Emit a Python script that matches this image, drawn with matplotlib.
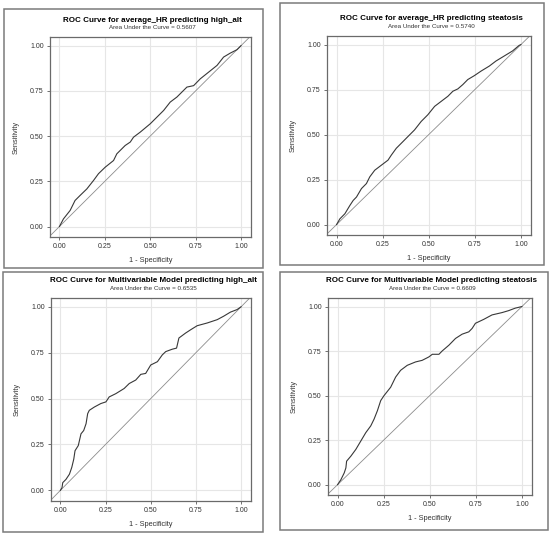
import matplotlib
matplotlib.use('Agg')
import matplotlib.pyplot as plt
from matplotlib.patches import Rectangle

plt.rcParams['font.family'] = ['Liberation Sans', 'DejaVu Sans']

W, H = 550, 538

# (1 - specificity, sensitivity)
hr_alt_x = [0, 0.022, 0.059, 0.086, 0.114, 0.151, 0.188, 0.215, 0.252, 0.298, 0.316, 0.362,
            0.390, 0.408, 0.445, 0.5, 0.537, 0.574, 0.610, 0.647, 0.702, 0.739, 0.776, 0.822,
            0.868, 0.904, 0.941, 0.978, 1]
hr_alt_y = [0, 0.042, 0.089, 0.144, 0.172, 0.208, 0.255, 0.292, 0.328, 0.365, 0.402, 0.448,
            0.467, 0.494, 0.522, 0.568, 0.605, 0.642, 0.688, 0.716, 0.771, 0.779, 0.817, 0.854,
            0.891, 0.937, 0.959, 0.978, 1]

hr_ste_x = [0, 0.018, 0.045, 0.072, 0.090, 0.108, 0.135, 0.162, 0.180, 0.207, 0.243, 0.279,
            0.297, 0.324, 0.360, 0.387, 0.423, 0.459, 0.495, 0.532, 0.568, 0.604, 0.631, 0.658,
            0.685, 0.712, 0.748, 0.784, 0.829, 0.865, 0.910, 0.955, 0.991, 1]
hr_ste_y = [0, 0.032, 0.060, 0.106, 0.134, 0.153, 0.200, 0.228, 0.265, 0.302, 0.330, 0.358,
            0.386, 0.424, 0.461, 0.489, 0.526, 0.573, 0.610, 0.657, 0.685, 0.713, 0.741, 0.754,
            0.778, 0.806, 0.828, 0.853, 0.881, 0.909, 0.937, 0.965, 0.996, 1]

mv_alt_x = [0, 0.009, 0.013, 0.031, 0.050, 0.063, 0.074, 0.081, 0.099, 0.114, 0.129, 0.142,
            0.151, 0.160, 0.188, 0.224, 0.252, 0.270, 0.307, 0.353, 0.381, 0.417, 0.445, 0.472,
            0.5, 0.537, 0.564, 0.583, 0.619, 0.643, 0.656, 0.693, 0.721, 0.757, 0.813, 0.868,
            0.904, 0.941, 0.978, 1]
mv_alt_y = [0, 0.015, 0.042, 0.060, 0.088, 0.125, 0.170, 0.216, 0.244, 0.308, 0.326, 0.363,
            0.418, 0.436, 0.454, 0.473, 0.482, 0.509, 0.527, 0.555, 0.582, 0.601, 0.632, 0.637,
            0.683, 0.701, 0.738, 0.756, 0.769, 0.775, 0.830, 0.857, 0.875, 0.897, 0.912, 0.930,
            0.949, 0.971, 0.985, 1]

mv_ste_x = [0, 0.018, 0.036, 0.045, 0.049, 0.072, 0.099, 0.126, 0.153, 0.180, 0.198, 0.216,
            0.234, 0.252, 0.288, 0.315, 0.342, 0.378, 0.423, 0.459, 0.495, 0.514, 0.550, 0.568,
            0.604, 0.640, 0.676, 0.712, 0.730, 0.748, 0.793, 0.838, 0.892, 0.928, 0.964, 1]
mv_ste_y = [0, 0.028, 0.066, 0.094, 0.132, 0.160, 0.198, 0.245, 0.292, 0.330, 0.368, 0.415,
            0.472, 0.500, 0.547, 0.604, 0.642, 0.670, 0.689, 0.698, 0.717, 0.732, 0.732, 0.751,
            0.783, 0.821, 0.845, 0.858, 0.877, 0.906, 0.928, 0.953, 0.966, 0.977, 0.991, 1]

titles = ['ROC Curve for average_HR predicting high_alt',
          'ROC Curve for average_HR predicting steatosis',
          'ROC Curve for Multivariable Model predicting high_alt',
          'ROC Curve for Multivariable Model predicting steatosis']
aucs = ['0.5607', '0.5740', '0.6535', '0.6609']
ticks = [0, 0.25, 0.5, 0.75, 1.0]
tick_labels = ['0.00', '0.25', '0.50', '0.75', '1.00']

curves = [(hr_alt_x, hr_alt_y), (hr_ste_x, hr_ste_y), (mv_alt_x, mv_alt_y), (mv_ste_x, mv_ste_y)]

# pixel boxes: panel border (l, t, r, b) and axes (l, t, r, b)
panel_boxes = [(4, 9, 263, 268), (280, 3, 544, 265), (3, 272, 263, 532), (280, 272, 548, 530)]
axes_boxes = [(50, 37, 251, 237), (327, 36, 531, 235), (51, 298, 251, 501), (328, 298, 532, 495)]

fig = plt.figure(figsize=(W / 100, H / 100), dpi=100)
fig.patch.set_facecolor('white')

for i in range(4):
    l, t, r, b = panel_boxes[i]
    fig.patches.append(Rectangle((l / W, 1 - b / H), (r - l) / W, (b - t) / H,
                                 transform=fig.transFigure, fill=False,
                                 edgecolor='#7a7a7a', linewidth=1.1))

    al, at, ar, ab = axes_boxes[i]
    ax = fig.add_axes([al / W, 1 - ab / H, (ar - al) / W, (ab - at) / H])
    x, y = curves[i]
    ax.plot(x, y, color='#383838', linewidth=0.8, zorder=3)
    ax.axline((0, 0), (1, 1), color='#8c8c8c', linewidth=0.6, zorder=2)

    ax.set_xlim(-0.052, 1.055)
    ax.set_ylim(-0.058, 1.048)
    ax.set_xticks(ticks)
    ax.set_xticklabels(tick_labels)
    ax.set_yticks(ticks)
    ax.set_yticklabels(tick_labels)
    ax.grid(True, color='#e6e6e6', linewidth=0.8)
    ax.set_axisbelow(True)
    ax.tick_params(length=2.5, width=0.7, color='#707070', labelsize=5,
                   labelcolor='#333333', pad=2)
    for s in ax.spines.values():
        s.set_color('#6a6a6a')
        s.set_linewidth(0.9)

    ax.set_xlabel('1 - Specificity', fontsize=5.3, color='#333333')
    ax.set_ylabel('Sensitivity', fontsize=5.3, color='#333333')
    ax.xaxis.set_label_coords(0.5, -20 / (ab - at))
    ax.yaxis.set_label_coords(-30 / (ar - al), 0.5)

    cx = (ar + al) / 2 + 2
    fig.text(cx / W, 1 - (at - 17) / H, titles[i], ha='center', va='center',
             fontsize=5.8, fontweight='bold', color='black')
    fig.text(cx / W, 1 - (at - 9) / H, 'Area Under the Curve = ' + aucs[i],
             ha='center', va='center', fontsize=4.5, color='#333333')

fig.savefig('out.png', dpi=100, facecolor='white')
